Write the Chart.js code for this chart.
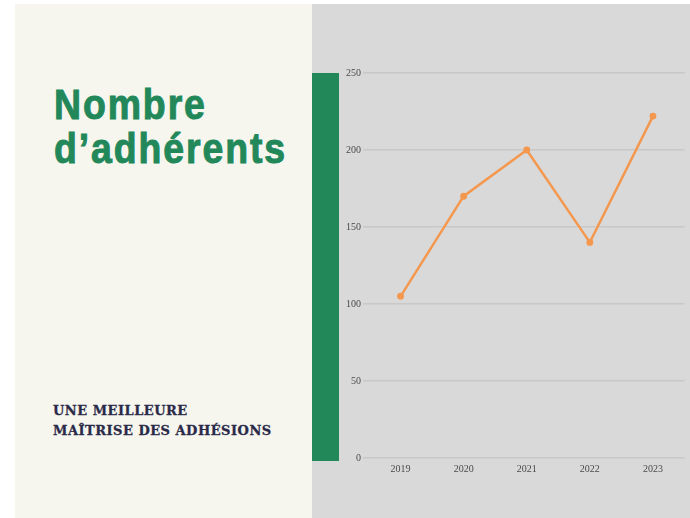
<!DOCTYPE html>
<html>
<head>
<meta charset="utf-8">
<script src="https://cdn.jsdelivr.net/npm/chart.js@4"></script>
<style>
  html, body { margin: 0; padding: 0; background: #ffffff; }
  body { width: 690px; height: 518px; position: relative; overflow: hidden; }
  #left {
    position: absolute; left: 15px; top: 4px; width: 297px; height: 514px;
    background: #f6f6ef;
  }
  #right {
    position: absolute; left: 312px; top: 4px; width: 378px; height: 514px;
    background: #d9d9d9;
  }
  #bar {
    position: absolute; left: 312px; top: 73px; width: 27px; height: 388px;
    background: #22885a;
  }
  #title {
    position: absolute; left: 54px; top: 82px;
    font-family: "Liberation Sans", Arial, sans-serif;
    font-weight: bold; font-size: 43px; line-height: 44px;
    letter-spacing: 2.2px; color: #22885a;
    -webkit-text-stroke: 1px #22885a;
    transform: scaleX(0.87); transform-origin: left top;
    white-space: nowrap;
  }
  #subtitle {
    position: absolute; left: 53px; top: 401px;
    font-family: "DejaVu Serif", serif; font-weight: bold;
    font-size: 13px; line-height: 19.5px; letter-spacing: 0.5px;
    color: #2a2a48;
    -webkit-text-stroke: 0.3px #2a2a48;
  }
  #chartBox { position: absolute; left: 312px; top: 4px; width: 378px; height: 514px; }
</style>
</head>
<body>
  <div id="left"></div>
  <div id="right"></div>
  <div id="chartBox"><canvas id="adherentsChart"></canvas></div>
  <div id="bar"></div>
  <div id="title">Nombre<br>d’adhérents</div>
  <div id="subtitle">UNE MEILLEURE<br>MAÎTRISE DES ADHÉSIONS</div>

<script>
const annees = ["2019", "2020", "2021", "2022", "2023"];
const adherents = [105, 170, 200, 140, 222];
const ticksY = [0, 50, 100, 150, 200, 250];

const ctx = document.getElementById("adherentsChart").getContext("2d");

new Chart(ctx, {
  type: "line",
  data: {
    labels: annees,
    datasets: [
      {
        label: "Adhérents",
        data: adherents,
        borderColor: "#f4984f",
        backgroundColor: "#f4984f",
        borderWidth: 2.5,
        pointRadius: 2.2,
        pointHoverRadius: 3,
        tension: 0,
      },
    ],
  },
  options: {
    responsive: true,
    maintainAspectRatio: false,
    animation: false,
    layout: { padding: { top: 69, right: 0, left: 0, bottom: 0 } },
    plugins: { legend: { display: false }, tooltip: { enabled: false } },
    scales: {
      x: {
        offset: true,
        grid: { display: false },
        border: { display: false },
        ticks: {
          padding: -3,
          color: "#4a4a4a",
          font: { family: "Liberation Serif", size: 10 },
          maxRotation: 0,
        },
        afterFit: (scale) => { scale.height = 60; },
      },
      y: {
        min: 0,
        max: 250,
        afterBuildTicks: (scale) => {
          scale.ticks = ticksY.map((v) => ({ value: v }));
        },
        grid: {
          color: "rgba(0,0,0,0.08)",
          lineWidth: 1.5,
          tickLength: 6,
        },
        border: { display: false },
        ticks: {
          padding: 2,
          color: "#4a4a4a",
          font: { family: "Liberation Serif", size: 10 },
        },
        afterFit: (scale) => { scale.width = 57; },
      },
    },
  },
});
</script>
</body>
</html>
